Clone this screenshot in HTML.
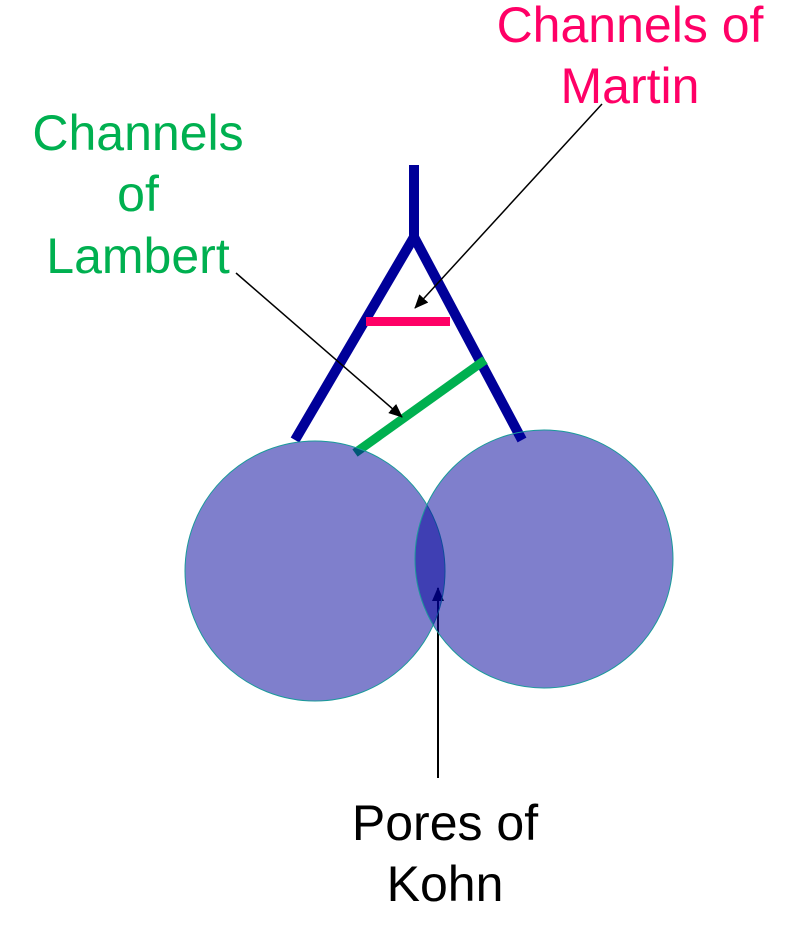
<!DOCTYPE html>
<html><head><meta charset="utf-8"><style>
html,body{margin:0;padding:0;background:#fff;}
svg{display:block;}
text{font-family:"Liberation Sans",Arial,sans-serif;font-size:50px;text-anchor:middle;}
</style></head><body>
<svg width="811" height="938" viewBox="0 0 811 938" xmlns="http://www.w3.org/2000/svg">
<defs>
<marker id="ah" markerWidth="10" markerHeight="8" refX="9" refY="4" orient="auto" markerUnits="userSpaceOnUse">
<path d="M0,0 L10,4 L0,8 z" fill="#000"/>
</marker>
<marker id="ah2" viewBox="0 0 14 12" markerWidth="14" markerHeight="12" refX="13" refY="6" orient="auto" markerUnits="userSpaceOnUse">
<path d="M0,0 L14,6 L0,12 z" fill="#000"/>
</marker>
</defs>
<g stroke="#000099" stroke-width="10" fill="none">
<line x1="414" y1="165" x2="414" y2="237"/>
<line x1="414" y1="237" x2="295" y2="440"/>
<line x1="414" y1="237" x2="522" y2="440"/>
</g>
<line x1="366" y1="321.5" x2="450" y2="321.5" stroke="#ff0066" stroke-width="9"/>
<line x1="355" y1="453" x2="485" y2="360" stroke="#00b050" stroke-width="9"/>
<line x1="602" y1="104" x2="415" y2="308" stroke="#000" stroke-width="1.5" marker-end="url(#ah2)"/>
<line x1="236" y1="273" x2="402" y2="417" stroke="#000" stroke-width="1.5" marker-end="url(#ah2)"/>
<line x1="438" y1="778" x2="438" y2="588" stroke="#000" stroke-width="2" marker-end="url(#ah2)"/>
<circle cx="315" cy="571" r="130" fill="rgba(0,0,153,0.5)" stroke="#1a9a9a" stroke-width="1"/>
<circle cx="544" cy="559" r="129" fill="rgba(0,0,153,0.5)" stroke="#1a9a9a" stroke-width="1"/>
<text x="630" y="42" fill="#ff0066">Channels of</text>
<text x="630" y="103" fill="#ff0066">Martin</text>
<text x="138" y="150" fill="#00b050">Channels</text>
<text x="138" y="211" fill="#00b050">of</text>
<text x="138" y="273" fill="#00b050">Lambert</text>
<text x="445" y="840" fill="#000">Pores of</text>
<text x="445" y="901" fill="#000">Kohn</text>
</svg>
</body></html>
